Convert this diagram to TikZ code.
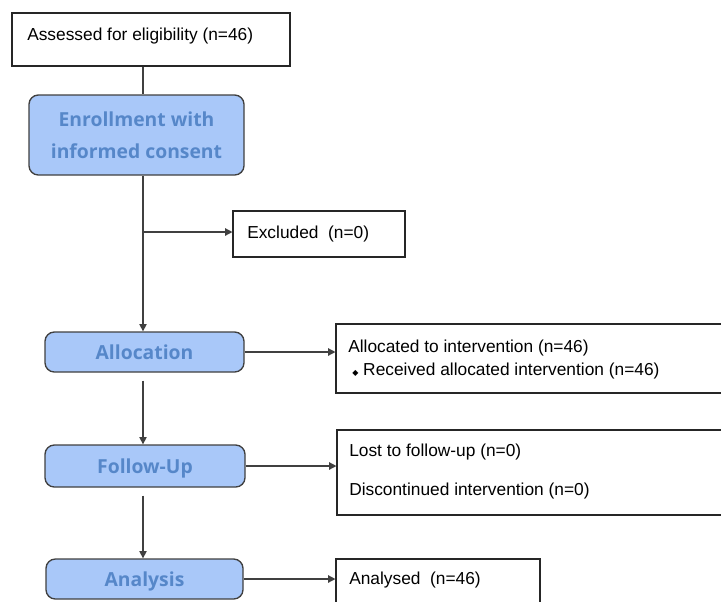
\documentclass[tikz,border=0pt]{standalone}
\usepackage{fontspec}
\setmainfont{Liberation Sans}
\newfontfamily\hdfont{Open Sans}
\newfontfamily\dvfont{DejaVu Sans}
\usetikzlibrary{arrows.meta,calc}
\definecolor{boxfill}{HTML}{A9C8F9}
\definecolor{boxtext}{HTML}{5687C9}
\definecolor{lineg}{HTML}{404040}
\begin{document}
\begin{tikzpicture}[x=0.75pt,y=-0.75pt,
  plainbox/.style={draw=black!85,line width=0.8pt,fill=white,inner sep=0pt},
  stagebox/.style={draw=lineg,line width=1pt,fill=boxfill,rounded corners=7pt,inner sep=0pt,
     font=\hdfont\bfseries\fontsize{14.5pt}{24pt}\selectfont,text=boxtext,align=center},
  oneline/.style={text height=10.5pt,text depth=0pt},
  txt/.style={anchor=west,inner sep=0pt,font=\fontsize{13pt}{15pt}\selectfont},
  conn/.style={draw=lineg,line width=1pt},
  arr/.style={conn,-{Triangle[length=5.5pt,width=5.5pt]}}]
\useasboundingbox (0,0) rectangle (721,601);
\clip (0,0) rectangle (721,601);
\coordinate (spine) at (143,0);
% boxes
\node[plainbox,minimum width=278*0.75pt,minimum height=53*0.75pt] (assess) at (151,39.5) {};
\node[stagebox,minimum width=215*0.75pt,minimum height=80*0.75pt] (enroll) at (136.5,135) {Enrollment with\\informed consent};
\node[plainbox,minimum width=172*0.75pt,minimum height=46*0.75pt] (excl) at (319,234) {};
\node[stagebox,oneline,minimum width=199*0.75pt,minimum height=40*0.75pt] (alloc) at (144.5,352) {Allocation};
\node[plainbox,minimum width=424*0.75pt,minimum height=69*0.75pt] (allocd) at (548,358.5) {};
\node[stagebox,oneline,minimum width=200*0.75pt,minimum height=42*0.75pt] (follow) at (145,466) {Follow-Up};
\node[plainbox,minimum width=423*0.75pt,minimum height=85*0.75pt] (lost) at (548.5,472.5) {};
\node[stagebox,oneline,minimum width=197*0.75pt,minimum height=40*0.75pt] (analysis) at (144.5,579) {Analysis};
\node[plainbox,minimum width=204*0.75pt,minimum height=81*0.75pt] (analysed) at (438,599.5) {};
% texts
\node[txt] (t1) at (27,36) {Assessed for eligibility (n=46)};
\node[txt] (t2) at (247,234) {Excluded\ \ (n=0)};
\node[txt] (t3) at (348,348) {Allocated to intervention (n=46)};
\node[txt] (t4) at (352,371) {{\dvfont\fontsize{6pt}{7pt}\selectfont ◆}\ Received\ allocated intervention (n=46)};
\node[txt] (t5) at (349,452) {Lost to follow-up (n=0)};
\node[txt] (t6) at (349,491) {Discontinued intervention (n=0)};
\node[txt] (t7) at (349,580) {Analysed\ \ (n=46)};
% connectors
\coordinate (br) at (143,232);
\draw[conn] (assess.south -| spine) -- (enroll.north -| spine);
\draw[arr] (enroll.south -| spine) -- (alloc.north -| spine);
\draw[arr] (br) -- (br -| excl.west);
\draw[arr] (alloc.east) -- (alloc.east -| allocd.west);
\draw[arr] ($(alloc.south -| spine)+(0,8)$) -- (follow.north -| spine);
\draw[arr] (follow.east) -- (follow.east -| lost.west);
\draw[arr] ($(follow.south -| spine)+(0,8)$) -- (analysis.north -| spine);
\draw[arr] (analysis.east) -- (analysis.east -| analysed.west);
\end{tikzpicture}
\end{document}
